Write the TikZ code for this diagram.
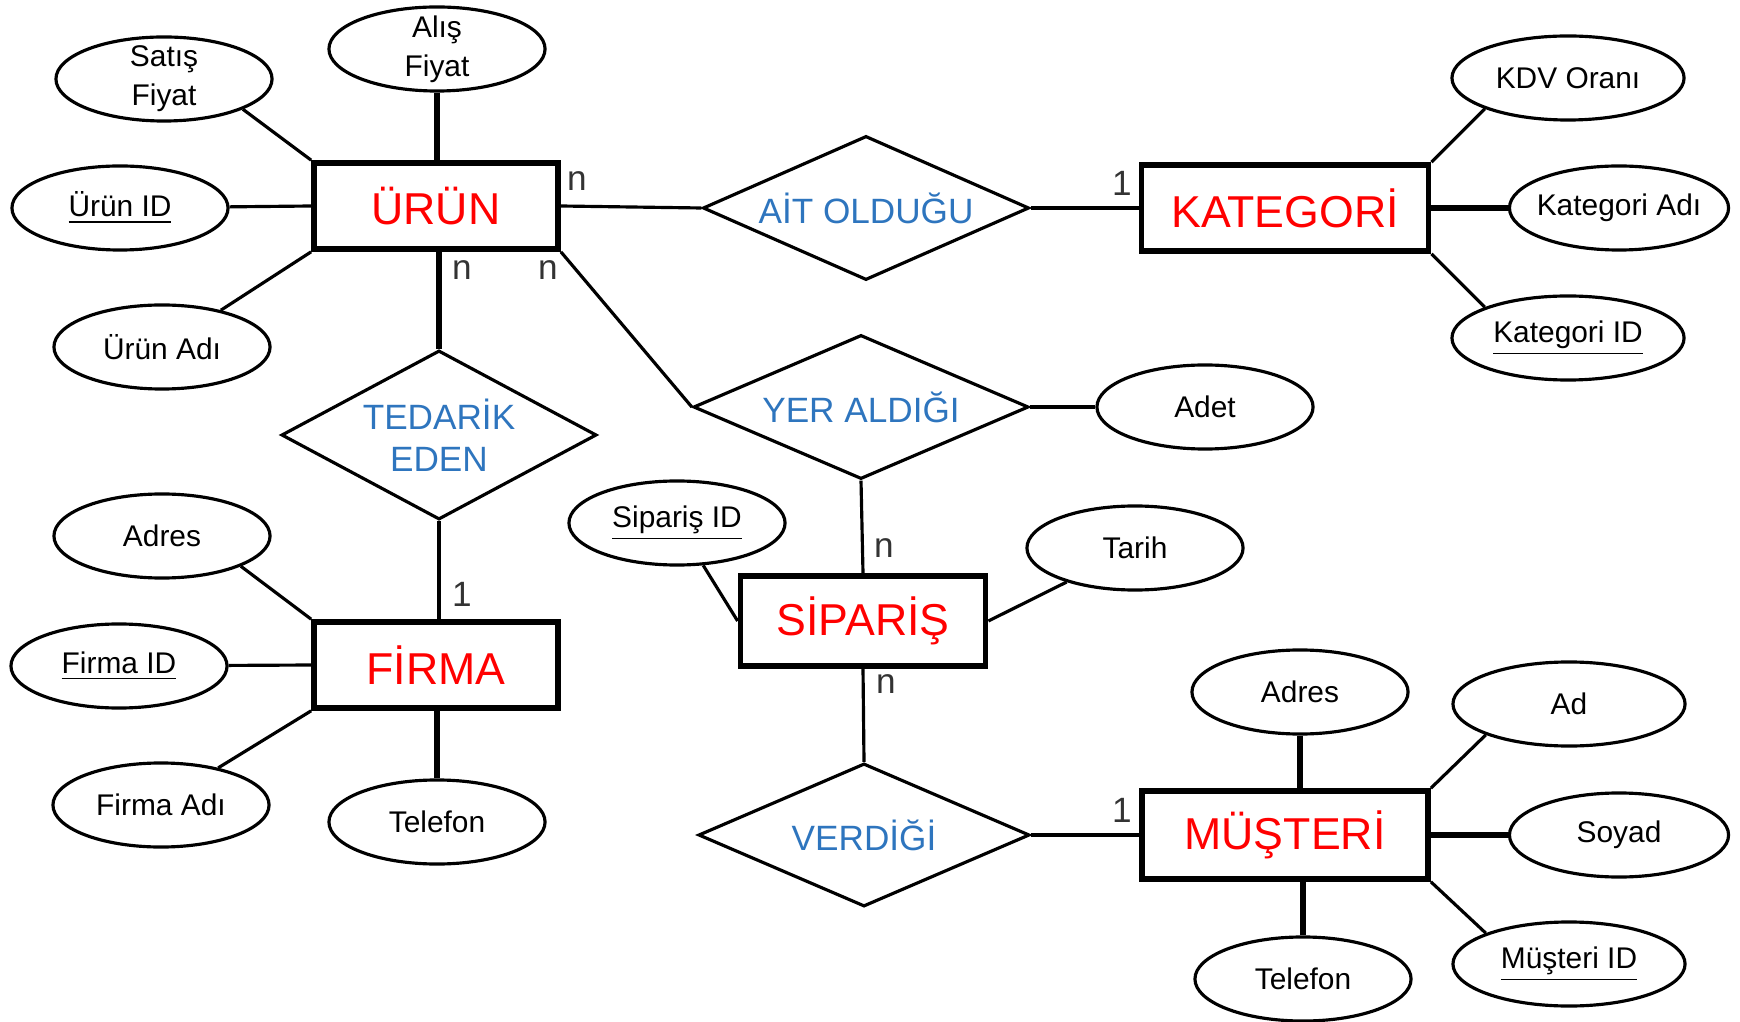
\documentclass[tikz,border=0pt]{standalone}
\usepackage{fontspec}
\setmainfont{Liberation Sans}
\usetikzlibrary{shapes.geometric}

\definecolor{relblue}{RGB}{46,117,190}
\definecolor{cardgray}{RGB}{51,51,51}

\tikzset{
	entity/.style={draw, rectangle, line width=1.6pt, inner sep=0pt, minimum width=2.44cm, minimum height=0.86cm, text=red, font=\fontsize{12.7}{15}\selectfont},
	rel/.style={draw, diamond, line width=0.9pt, inner sep=0pt, align=center, text=relblue, font=\fontsize{10}{12}\selectfont},
	attr/.style={draw, ellipse, line width=0.9pt, inner xsep=-6pt, inner ysep=-4pt, minimum width=2.16cm, minimum height=0.84cm, align=center, font=\fontsize{8.5}{11}\selectfont},
	card/.style={inner sep=0pt, text=cardgray, font=\fontsize{10}{12}\selectfont},
	link/.style={line width=0.9pt},
	boldlink/.style={line width=1.7pt}
}

\begin{document}
\begin{tikzpicture}[x=0.01cm, y=-0.01cm]
		%%%%% START %%%%%
		\useasboundingbox (0, 0) rectangle (1740, 1022);
		
		\node[entity] (urun) at (436, 206) {ÜRÜN};
		\node[entity, minimum width=2.87cm] (kategori) at (1285, 208) {KATEGORİ};
		\node[entity] (firma) at (436, 665) {FİRMA};
		\node[entity, minimum width=2.45cm, minimum height=0.9cm] (siparis) at (863, 621) {SİPARİŞ};
		\node[entity, minimum width=2.86cm, minimum height=0.88cm] (musteri) at (1285, 835) {MÜŞTERİ};
		
		\node[rel, aspect=2.26, minimum width=3.26cm, minimum height=1.44cm] (ait) at (866, 208) {AİT OLDUĞU};
		\node[rel, aspect=1.86, minimum width=3.15cm, minimum height=1.69cm] (tedarik) at (439, 435) {TEDARİK\\EDEN};
		\node[rel, aspect=2.33, minimum width=3.35cm, minimum height=1.44cm] (yer) at (861, 407) {YER ALDIĞI};
		\node[rel, aspect=2.31, minimum width=3.31cm, minimum height=1.43cm] (verdigi) at (864, 835) {VERDİĞİ};
		
		\node[attr] (satis) at (164, 79) {Satış\\Fiyat};
		\node[attr] (alis) at (437, 49) {Alış\\Fiyat};
		\node[attr] (urunid) at (120, 208) {\underline{Ürün ID}};
		\node[attr] (urunadi) at (162, 347) {Ürün Adı};
		
		\node[attr, minimum width=2.32cm] (kdv) at (1568, 78) {KDV Oranı};
		\node[attr, minimum width=2.19cm] (katadi) at (1619, 208) {Kategori Adı};
		\node[attr, minimum width=2.32cm] (katid) at (1568, 338) {\underline{Kategori ID}};
		
		\node[attr] (adet) at (1205, 407) {Adet};
		\node[attr] (sipid) at (677, 523) {\underline{Sipariş ID}};
		\node[attr] (tarih) at (1135, 548) {Tarih};
		
		\node[attr] (fadres) at (162, 536) {Adres};
		\node[attr] (firmaid) at (119, 666) {\underline{Firma ID}};
		\node[attr] (firmaadi) at (161, 805) {Firma Adı};
		\node[attr] (ftel) at (437, 822) {Telefon};
		
		\node[attr] (madres) at (1300, 692) {Adres};
		\node[attr, minimum width=2.32cm] (ad) at (1569, 704) {Ad};
		\node[attr, minimum width=2.19cm] (soyad) at (1619, 835) {Soyad};
		\node[attr, minimum width=2.32cm] (musid) at (1569, 964) {\underline{Müşteri ID}};
		\node[attr] (mtel) at (1303, 979) {Telefon};
		
		% relationships
		\draw[link] (urun.east) -- (ait.west);
		\draw[link] (ait.east) -- (kategori.west);
		\draw[boldlink] (tedarik.north) -- (tedarik |- urun.south);
		\draw[line width=1.3pt] (tedarik.south) -- (tedarik |- firma.north);
		\draw[link] (urun.south east) -- (yer.west);
		\draw[link] (yer.south) -- (siparis.north);
		\draw[link] (yer.east) -- (adet);
		\draw[link] (siparis.south) -- (verdigi.north);
		\draw[link] (verdigi.east) -- (musteri.west);
		
		% attributes
		\draw[link] (urun.north west) -- (satis.-21);
		\draw[boldlink] (alis.south) -- (alis |- urun.north);
		\draw[link] (urun.west) -- (urunid);
		\draw[link] (urun.south west) -- (urunadi.32);
		
		\draw[link] (kategori.north east) -- (kdv.south west);
		\draw[boldlink] (kategori.east) -- (katadi);
		\draw[link] (kategori.south east) -- (katid.north west);
		
		\draw[link] (siparis.west) -- (sipid);
		\draw[link] (siparis.east) -- (tarih);
		
		\draw[link] (firma.north west) -- (fadres.-21);
		\draw[link] (firma.west) -- (firmaid);
		\draw[link] (firma.south west) -- (firmaadi.33);
		\draw[boldlink] (ftel.north) -- (ftel |- firma.south);
		
		\draw[boldlink] (madres.south) -- (madres |- musteri.north);
		\draw[link] (musteri.north east) -- (ad.south west);
		\draw[boldlink] (musteri.east) -- (soyad);
		\draw[link] (musteri.south east) -- (musid.north west);
		\draw[boldlink] (mtel.north) -- (mtel |- musteri.south);
		
		% cardinalities
		\node[card] (c1) at (577, 181) {n};
		\node[card] (c2) at (462, 270) {n};
		\node[card] (c3) at (548, 270) {n};
		\node[card] (c4) at (1122, 183) {1};
		\node[card] (c5) at (462, 594) {1};
		\node[card] (c6) at (884, 548) {n};
		\node[card] (c7) at (886, 684) {n};
		\node[card] (c8) at (1122, 810) {1};
		
		%%%%% END %%%%%
\end{tikzpicture}
\end{document}
